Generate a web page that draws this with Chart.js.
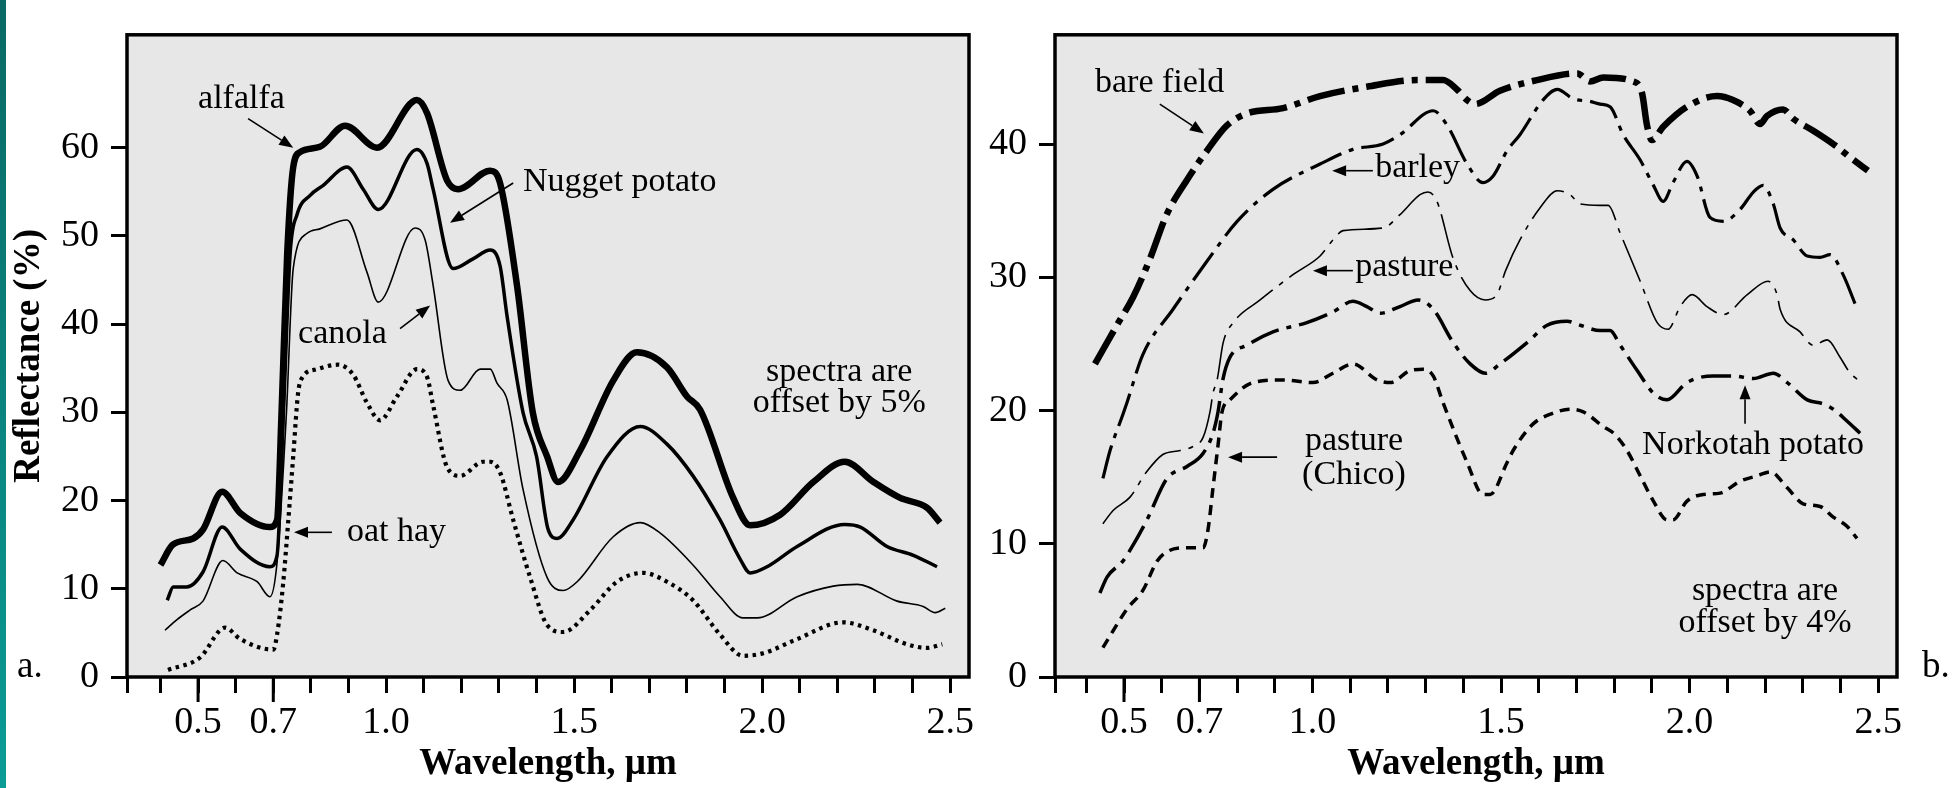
<!DOCTYPE html>
<html><head><meta charset="utf-8">
<script src="https://cdn.jsdelivr.net/npm/chart.js@4.4.1/dist/chart.umd.min.js"></script>
<style>
html,body{margin:0;padding:0;background:#fff;width:1955px;height:788px;overflow:hidden;}
#strip{position:absolute;left:0;top:0;width:6px;height:788px;background:linear-gradient(#0a6964,#0b9c96);}
canvas{position:absolute;top:0;}
#cA{left:0;width:985px;height:788px;}
#cB{left:985px;width:970px;height:788px;}
</style></head><body>
<div id="strip"></div>
<canvas id="cA" width="985" height="788"></canvas>
<canvas id="cB" width="970" height="788"></canvas>
<script>
// ---------- Panel a: wavelength (µm) and reflectance (%) ----------
const alfalfaWl = [0.400,0.433,0.487,0.513,0.564,0.612,0.691,0.710,0.722,0.737,0.753,0.771,0.824,0.891,0.976,1.082,1.109,1.162,1.191,1.277,1.303,1.348,1.390,1.428,1.457,1.516,1.604,1.667,1.747,1.800,1.835,1.923,1.968,2.048,2.136,2.220,2.296,2.367,2.438,2.473];
const alfalfaR  = [12.7,15.0,15.7,16.7,21.0,18.6,17.0,17.8,30.0,48.0,57.8,59.5,60.1,62.5,60.0,65.4,63.9,56.3,55.3,57.4,56.0,44.4,30.0,25.0,22.1,25.7,33.6,36.8,35.1,31.8,30.3,20.3,17.2,18.4,22.1,24.4,22.1,20.3,19.2,17.5];
const nuggetWl  = [0.418,0.434,0.470,0.513,0.564,0.612,0.691,0.710,0.727,0.745,0.763,0.798,0.832,0.896,0.939,0.979,1.082,1.109,1.125,1.178,1.231,1.277,1.303,1.322,1.364,1.400,1.431,1.455,1.497,1.588,1.676,1.747,1.816,1.888,1.941,1.968,2.013,2.093,2.220,2.261,2.332,2.402,2.465];
const nuggetR   = [8.7,10.2,10.2,11.9,17.0,14.5,12.5,13.8,30.0,48.1,52.4,54.6,55.7,57.8,55.3,53.0,59.8,58.2,55.3,46.3,47.4,48.4,46.6,40.8,30.0,25.0,16.7,15.7,17.8,25.0,28.4,26.4,22.8,17.8,13.4,11.8,12.5,14.8,17.3,17.0,14.8,13.8,12.5];
const canolaWl  = [0.412,0.444,0.479,0.513,0.566,0.604,0.657,0.691,0.710,0.735,0.753,0.790,0.824,0.896,0.949,0.979,1.077,1.104,1.125,1.165,1.197,1.250,1.277,1.295,1.322,1.364,1.428,1.471,1.508,1.604,1.676,1.729,1.816,1.888,1.949,1.987,2.093,2.189,2.253,2.359,2.428,2.460,2.487];
const canolaR   = [5.3,6.5,7.6,8.6,13.2,11.8,10.8,9.1,13.0,30.0,46.3,50.3,50.8,51.8,45.9,42.5,50.9,49.5,44.4,33.6,32.5,34.9,34.9,33.3,31.4,21.3,11.3,9.8,10.8,15.9,17.5,16.3,12.7,9.1,6.7,6.7,9.1,10.3,10.5,8.6,8.0,7.3,7.8];
const oatHayWl  = [0.420,0.505,0.572,0.612,0.700,0.710,0.726,0.740,0.753,0.766,0.778,0.816,0.872,0.912,0.949,0.984,1.029,1.082,1.109,1.125,1.162,1.197,1.258,1.277,1.303,1.338,1.383,1.428,1.471,1.543,1.614,1.684,1.747,1.816,1.888,1.949,2.003,2.093,2.215,2.295,2.386,2.438,2.479];
const oatHayR   = [0.8,2.2,5.6,4.3,3.1,4.8,10.5,17.8,25.0,32.2,34.0,34.9,35.4,34.3,31.1,29.1,31.8,34.9,34.0,30.8,23.8,22.8,24.4,24.4,23.2,17.8,11.3,5.9,5.1,7.6,10.8,11.8,10.8,8.7,4.8,2.4,2.7,4.3,6.2,5.3,3.7,3.3,3.7];

// ---------- Panel b ----------
const bareWl    = [0.423,0.481,0.524,0.569,0.613,0.667,0.720,0.773,0.826,0.922,1.020,1.144,1.277,1.346,1.383,1.410,1.431,1.497,1.595,1.702,1.736,1.771,1.850,1.874,1.887,1.900,1.930,1.993,2.073,2.115,2.160,2.187,2.205,2.248,2.275,2.328,2.381,2.426,2.473];
const bareR     = [23.5,26.4,28.5,31.4,34.7,37.3,39.5,41.4,42.3,42.7,43.6,44.3,44.8,44.8,44.1,43.3,43.0,44.0,44.8,45.3,44.7,45.0,44.7,43.8,41.4,40.3,41.3,42.8,43.6,43.3,42.5,41.5,42.1,42.6,41.9,41.0,40.0,39.0,38.0];
const barleyWl  = [0.444,0.463,0.497,0.508,0.550,0.630,0.720,0.800,0.895,1.020,1.107,1.187,1.232,1.320,1.357,1.410,1.452,1.479,1.516,1.550,1.611,1.649,1.691,1.736,1.763,1.789,1.824,1.869,1.904,1.930,1.956,1.993,2.020,2.054,2.090,2.134,2.169,2.195,2.222,2.240,2.275,2.312,2.346,2.373,2.407,2.439];
const barleyR   = [14.9,17.0,19.7,20.6,24.2,27.6,31.2,34.2,36.6,38.5,39.6,40.0,40.7,42.5,41.4,38.5,37.1,37.6,39.5,40.7,43.3,44.1,43.4,43.2,43.0,42.8,40.7,38.8,36.9,35.7,37.1,38.7,37.6,34.5,34.2,35.1,36.4,36.9,35.5,33.7,32.8,31.6,31.5,31.7,30.2,28.0];
const pastureWl = [0.444,0.471,0.516,0.560,0.603,0.649,0.683,0.710,0.728,0.736,0.747,0.763,0.790,0.861,0.948,1.020,1.054,1.081,1.187,1.232,1.285,1.306,1.330,1.373,1.418,1.458,1.489,1.512,1.550,1.603,1.649,1.683,1.710,1.763,1.784,1.816,1.869,1.914,1.943,1.975,2.007,2.046,2.089,2.153,2.208,2.232,2.240,2.293,2.328,2.365,2.399,2.426,2.452];
const pastureR  = [11.5,12.5,13.5,15.4,16.7,17.0,17.3,18.0,19.9,21.3,22.3,25.1,26.6,28.3,30.2,31.6,32.8,33.5,33.7,34.7,36.2,36.4,35.7,31.4,29.0,28.3,28.7,30.5,32.8,35.2,36.5,36.2,35.5,35.4,35.4,33.3,29.7,26.6,26.1,27.8,28.7,27.8,27.2,28.7,29.7,28.7,27.6,25.9,24.9,25.3,24.0,22.8,22.2];
const norkotahWl= [0.436,0.455,0.497,0.524,0.561,0.614,0.667,0.710,0.736,0.750,0.762,0.781,0.826,0.895,0.985,1.054,1.107,1.144,1.179,1.232,1.280,1.320,1.373,1.418,1.458,1.497,1.569,1.622,1.675,1.710,1.763,1.789,1.816,1.861,1.904,1.940,1.993,2.062,2.115,2.169,2.222,2.259,2.312,2.354,2.381,2.418,2.452];
const norkotahR = [6.3,7.5,8.7,9.9,11.8,14.9,15.8,16.8,18.3,20.0,22.3,24.0,24.9,25.9,26.6,27.4,28.2,27.8,27.3,27.8,28.3,27.6,25.1,23.5,22.8,23.5,25.1,26.4,26.7,26.4,26.0,26.0,24.9,23.0,21.3,20.8,22.1,22.6,22.6,22.4,22.8,22.1,20.8,20.5,20.1,19.2,18.3];
const chicoWl   = [0.444,0.508,0.550,0.588,0.614,0.667,0.710,0.723,0.736,0.749,0.760,0.781,0.842,0.922,1.001,1.054,1.107,1.171,1.206,1.259,1.293,1.320,1.346,1.410,1.452,1.471,1.516,1.532,1.585,1.638,1.683,1.718,1.771,1.802,1.834,1.869,1.904,1.940,1.956,1.993,2.036,2.081,2.134,2.179,2.214,2.259,2.301,2.346,2.381,2.418,2.444];
const chicoR    = [2.2,5.1,6.5,8.7,9.4,9.7,9.7,11.1,14.2,17.3,19.9,20.8,22.1,22.3,22.1,22.8,23.5,22.3,22.1,23.0,23.1,22.6,20.6,16.1,13.7,13.7,16.1,17.0,19.0,19.8,20.1,19.9,18.8,18.2,17.0,15.1,13.2,11.8,11.8,13.2,13.7,13.8,14.7,15.1,15.4,14.2,13.0,12.8,12.0,11.3,10.4];

// ---------- ticks ----------
const xTickLabels = ['0.5','0.7','1.0','1.5','2.0','2.5'];
const xLongTicks  = [0.5, 0.7];
const yTicksA = [0,10,20,30,40,50,60];
const yTicksB = [0,10,20,30,40];

// ---------- annotations (data coordinates) ----------
const notesA = [
  {lines:['alfalfa'], x:0.50, y:64.5, align:'left'},
  {lines:['Nugget potato'], x:1.364, y:55.1, align:'left'},
  {lines:['canola'], x:0.766, y:37.9, align:'left'},
  {lines:['oat hay'], x:0.896, y:15.4, align:'left'},
  {lines:['spectra are','offset by 5%'], x:2.205, y:33.6, align:'center', lead:3.6}
];
const arrowsA = [
  [0.633,63.3,0.753,60.0],
  [1.338,56.0,1.170,51.5],
  [1.037,39.5,1.117,42.1],
  [0.856,16.4,0.755,16.4]
];
const notesB = [
  {lines:['bare field'], x:0.423, y:43.9, align:'left'},
  {lines:['barley'], x:1.166, y:37.5, align:'left'},
  {lines:['pasture'], x:1.113, y:30.1, align:'left'},
  {lines:['pasture','(Chico)'], x:1.11, y:17.0, align:'center', lead:2.5},
  {lines:['Norkotah potato'], x:1.874, y:16.7, align:'left'},
  {lines:['spectra are','offset by 4%'], x:2.20, y:5.8, align:'center', lead:2.4}
];
const arrowsB = [
  [0.595,43.0,0.712,40.8],
  [1.160,38.0,1.052,38.0],
  [1.107,30.5,1.001,30.5],
  [0.906,16.5,0.776,16.5],
  [2.147,19.0,2.147,21.9]
];

const SERIF = '"Liberation Serif", "Times New Roman", serif';
const pts = (xs, ys) => xs.map((x, i) => ({x, y: ys[i]}));

function series(label, xs, ys, width, dash) {
  return {
    label, data: pts(xs, ys), borderColor: '#000', borderWidth: width,
    borderDash: dash || [], borderCapStyle: 'butt', borderJoinStyle: 'round',
    pointRadius: 0, fill: false, cubicInterpolationMode: 'monotone', clip: false
  };
}

function decorPlugin(notes, arrows, panelLabel, labelX) {
  return {
    id: 'decor',
    beforeDraw(chart) {
      const {ctx, chartArea: a} = chart;
      ctx.save();
      ctx.fillStyle = '#e7e7e7';
      ctx.fillRect(a.left, a.top, a.right - a.left, a.bottom - a.top);
      ctx.restore();
    },
    afterDraw(chart) {
      const {ctx, chartArea: a} = chart;
      const xs = chart.scales.x, ys = chart.scales.y;
      ctx.save();
      ctx.strokeStyle = '#000';
      ctx.lineWidth = 3.5;
      ctx.strokeRect(a.left, a.top, a.right - a.left, a.bottom - a.top);
      ctx.lineWidth = 3;
      ctx.beginPath();
      for (const v of xLongTicks) {
        const px = xs.getPixelForValue(v);
        ctx.moveTo(px, a.bottom); ctx.lineTo(px, a.bottom + 25);
      }
      ctx.stroke();
      ctx.fillStyle = '#000';
      ctx.font = '34px ' + SERIF;
      ctx.textBaseline = 'alphabetic';
      for (const n of notes) {
        ctx.textAlign = n.align;
        n.lines.forEach((t, i) => {
          const yv = n.y - i * (n.lead || 0);
          ctx.fillText(t, xs.getPixelForValue(n.x), ys.getPixelForValue(yv));
        });
      }
      ctx.lineWidth = 1.6;
      for (const [x1, y1, x2, y2] of arrows) {
        const p1x = xs.getPixelForValue(x1), p1y = ys.getPixelForValue(y1);
        const p2x = xs.getPixelForValue(x2), p2y = ys.getPixelForValue(y2);
        const ang = Math.atan2(p2y - p1y, p2x - p1x);
        const L = 14, W = 5.5;
        const bx = p2x - L * Math.cos(ang), by = p2y - L * Math.sin(ang);
        ctx.beginPath(); ctx.moveTo(p1x, p1y); ctx.lineTo(bx, by); ctx.stroke();
        ctx.beginPath();
        ctx.moveTo(p2x, p2y);
        ctx.lineTo(bx + W * Math.sin(ang), by - W * Math.cos(ang));
        ctx.lineTo(bx - W * Math.sin(ang), by + W * Math.cos(ang));
        ctx.closePath(); ctx.fill();
      }
      ctx.font = '37px ' + SERIF;
      ctx.textAlign = 'left';
      ctx.fillText(panelLabel, labelX, a.bottom);
      ctx.restore();
    }
  };
}

function makeChart(id, datasets, o) {
  return new Chart(document.getElementById(id), {
    type: 'line',
    data: {datasets},
    options: {
      responsive: false, animation: false, devicePixelRatio: 1,
      layout: {padding: {top: 5, right: o.padRight, left: 0, bottom: 0}},
      plugins: {legend: {display: false}, tooltip: {enabled: false}},
      scales: {
        x: {
          type: 'linear', min: o.xMin, max: o.xMax,
          afterBuildTicks(s) {
            const t = [{value: o.xMin}];
            for (let i = 4; i <= 25; i++) t.push({value: i / 10});
            s.ticks = t;
          },
          afterFit(s) { s.height = 111; },
          border: {display: false},
          grid: {drawOnChartArea: false, drawTicks: true, tickLength: 16, tickWidth: 3, tickColor: '#000', lineWidth: 3, color: '#000'},
          ticks: {
            autoSkip: false, maxRotation: 0, padding: 7, color: '#000',
            font: {family: SERIF, size: 38},
            callback(v) { const s = (+v).toFixed(1); return xTickLabels.includes(s) && Math.abs(v - +s) < 1e-6 ? s : ''; }
          },
          title: {display: true, text: 'Wavelength, µm', color: '#000', font: {family: SERIF, size: 37, weight: 'bold'}, padding: {top: 0, bottom: 1}}
        },
        y: {
          type: 'linear', min: 0, max: o.yMax,
          afterBuildTicks(s) { s.ticks = o.yTicks.map(v => ({value: v})); },
          afterFit(s) { s.width = o.yWidth; },
          border: {display: false},
          grid: {drawOnChartArea: false, drawTicks: true, tickLength: 16, tickWidth: 3, tickColor: '#000', lineWidth: 3, color: '#000'},
          ticks: {padding: 12, color: '#000', font: {family: SERIF, size: 38}},
          title: {display: o.yTitle, text: 'Reflectance (%)', color: '#000', font: {family: SERIF, size: 37, weight: 'bold'}, padding: {top: 7, bottom: 0}}
        }
      }
    },
    plugins: [decorPlugin(o.notes, o.arrows, o.panelLabel, o.labelX)]
  });
}

makeChart('cA', [
  series('alfalfa', alfalfaWl, alfalfaR, 6.5),
  series('Nugget potato', nuggetWl, nuggetR, 3.5),
  series('canola', canolaWl, canolaR, 1.6),
  series('oat hay', oatHayWl, oatHayR, 4.2, [3.5, 4.5])
], {xMin: 0.311, xMax: 2.55, yMax: 72.8, yTicks: yTicksA, yWidth: 127, padRight: 16,
    yTitle: true, notes: notesA, arrows: arrowsA, panelLabel: 'a.', labelX: 17});

makeChart('cB', [
  series('bare field', bareWl, bareR, 6.5, [38, 8, 6, 8]),
  series('barley', barleyWl, barleyR, 3.2, [34, 8, 5, 8]),
  series('pasture', pastureWl, pastureR, 1.6, [45, 8, 5, 8]),
  series('Norkotah potato', norkotahWl, norkotahR, 3.5, [30, 8, 5, 8]),
  series('pasture (Chico)', chicoWl, chicoR, 3.5, [10, 7])
], {xMin: 0.317, xMax: 2.55, yMax: 48.2, yTicks: yTicksB, yWidth: 70, padRight: 58,
    yTitle: false, notes: notesB, arrows: arrowsB, panelLabel: 'b.', labelX: 937});
</script>
</body></html>
